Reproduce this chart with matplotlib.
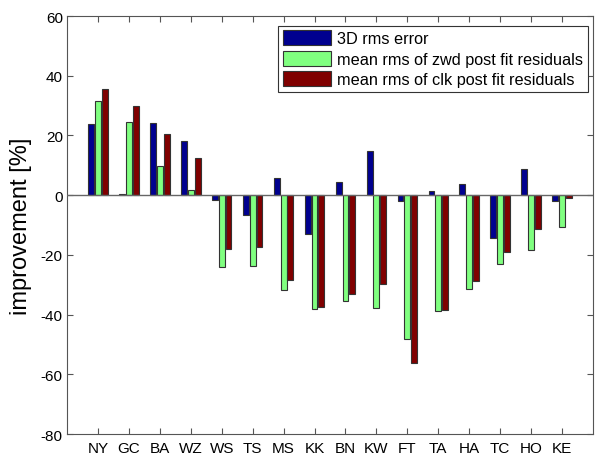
import matplotlib.pyplot as plt
import numpy as np

plt.rcParams["font.family"] = ["Liberation Sans", "DejaVu Sans"]
plt.rcParams["axes.unicode_minus"] = False

stations = ["NY", "GC", "BA", "WZ", "WS", "TS", "MS", "KK",
            "BN", "KW", "FT", "TA", "HA", "TC", "HO", "KE"]

rms_3d = [24.0, 0.5, 24.2, 18.0, -1.7, -6.6, 5.9, -13.1,
          4.5, 14.7, -2.1, 1.4, 3.8, -14.3, 8.9, -1.9]
zwd_resid = [31.5, 24.4, 9.7, 1.8, -23.9, -23.7, -31.6, -38.2,
             -35.4, -37.8, -48.1, -38.8, -31.3, -23.0, -18.2, -10.6]
clk_resid = [35.4, 29.9, 20.5, 12.4, -18.1, -17.5, -28.5, -37.4,
             -33.2, -29.6, -56.3, -38.4, -28.8, -19.1, -11.4, -0.9]

series_labels = ["3D rms error",
                 "mean rms of zwd post fit residuals",
                 "mean rms of clk post fit residuals"]
colors = ["#00008f", "#80ff80", "#800000"]

fig = plt.figure(figsize=(5.95, 4.6), dpi=100)
ax = fig.add_axes([0.1126, 0.0543, 0.8840, 0.9087])

x = np.arange(1, len(stations) + 1)
offsets = [-0.22, 0.0, 0.22]
for vals, off, col, lab in zip([rms_3d, zwd_resid, clk_resid], offsets, colors, series_labels):
    ax.bar(x + off, vals, width=0.19, color=col, edgecolor="#333333",
           linewidth=0.8, label=lab, zorder=2)

ax.axhline(0, color="#666666", linewidth=1.0, zorder=3)

ax.set_xlim(0, 17)
ax.set_ylim(-80, 60)
ax.set_xticks(x)
ax.set_xticklabels(stations)
ax.set_yticks(np.arange(-80, 61, 20))
ax.tick_params(direction="in", top=True, right=True, labelsize=11,
               length=4, color="#555555")
ax.tick_params(axis="x", pad=5)
ax.tick_params(axis="y", pad=3)
for sp in ax.spines.values():
    sp.set_color("#555555")
    sp.set_linewidth(0.8)

ax.set_ylabel("improvement [%]", fontsize=17, labelpad=6)

leg = ax.legend(loc="upper right", bbox_to_anchor=(0.9966, 0.985),
                fontsize=11.7, handlelength=3.0, handleheight=1.05,
                handletextpad=0.35, borderpad=0.3, labelspacing=0.25,
                borderaxespad=0.2, fancybox=False, framealpha=1)
leg.get_frame().set_edgecolor("#333333")
leg.get_frame().set_linewidth(0.8)

fig.savefig("out.png", dpi=100)
